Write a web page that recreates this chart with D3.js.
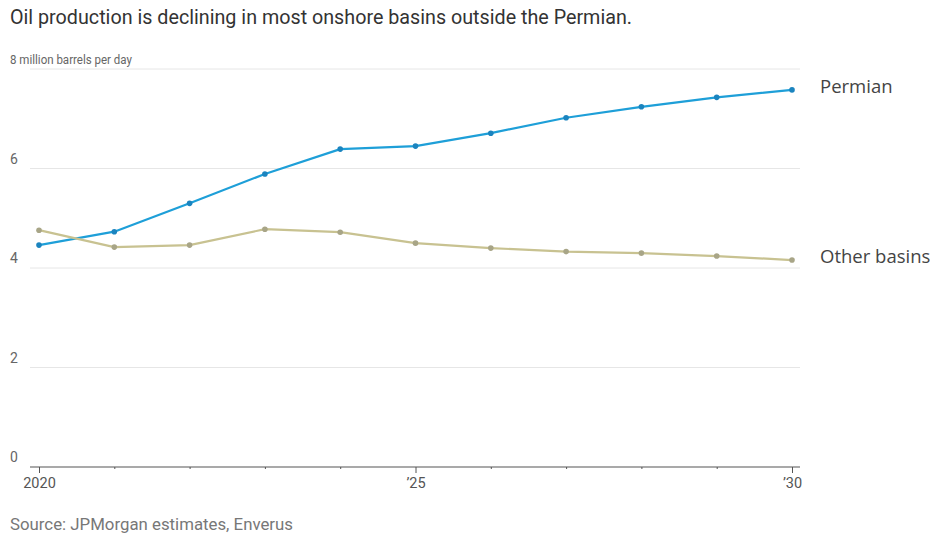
<!DOCTYPE html>
<html>
<head>
<meta charset="utf-8">
<script src="https://cdn.jsdelivr.net/npm/d3@7"></script>
<style>
  html, body { margin: 0; padding: 0; background: #fff; }
  svg { display: block; }
</style>
</head>
<body>
<svg id="chart" width="930" height="538"></svg>
<script>
// Oil production, million barrels per day
const years = [2020, 2021, 2022, 2023, 2024, 2025, 2026, 2027, 2028, 2029, 2030];
const permian = [4.46, 4.73, 5.30, 5.89, 6.39, 6.45, 6.71, 7.02, 7.24, 7.43, 7.58];
const otherBasins = [4.76, 4.42, 4.46, 4.78, 4.72, 4.50, 4.40, 4.33, 4.30, 4.24, 4.16];
const yTicks = [0, 2, 4, 6, 8];
const xTickLabels = { 2020: "2020", 2025: "\u201925", 2030: "\u201930" };

const series = [
  { name: "Permian", values: permian, line: "#1e9fd8", dot: "#1b84bf" },
  { name: "Other basins", values: otherBasins, line: "#c8c291", dot: "#a8a587" }
];

const svg = d3.select("#chart");
const x = d3.scaleLinear().domain([2020, 2030]).range([39, 792]);
const y = d3.scaleLinear().domain([0, 8]).range([467, 69]);

const font = "Roboto, 'Noto Sans', sans-serif";

// Title (condensed to the headline width)
svg.append("text")
  .attr("x", 10).attr("y", 24)
  .attr("font-family", font)
  .attr("font-size", 20.5)
  .attr("textLength", 622)
  .attr("lengthAdjust", "spacingAndGlyphs")
  .attr("fill", "#333")
  .text("Oil production is declining in most onshore basins outside the Permian.");

// Horizontal gridlines
svg.append("g").selectAll("line")
  .data(yTicks.filter(d => d > 0))
  .join("line")
  .attr("x1", 30).attr("x2", 800)
  .attr("y1", d => y(d)).attr("y2", d => y(d))
  .attr("stroke", "#e6e6e6").attr("stroke-width", 1);

// Y tick labels above gridlines
const yLab = svg.append("g").selectAll("text")
  .data(yTicks)
  .join("text")
  .attr("x", 10)
  .attr("y", d => y(d) - 5)
  .attr("font-family", font)
  .attr("font-size", d => d === 8 ? 12.5 : 14)
  .attr("fill", "#666")
  .text(d => d === 8 ? "8 million barrels per day" : d);
yLab.filter(d => d === 8)
  .attr("textLength", 122)
  .attr("lengthAdjust", "spacingAndGlyphs");

// X axis
const xAxis = d3.axisBottom(x)
  .tickValues(years)
  .tickSize(3)
  .tickFormat(d => xTickLabels[d] || "");
const gx = svg.append("g")
  .attr("transform", `translate(0,${y(0)})`)
  .call(xAxis);
gx.select(".domain").remove();
gx.append("line")
  .attr("x1", 30).attr("x2", 800)
  .attr("stroke", "#555").attr("stroke-width", 1.2);
gx.selectAll(".tick line")
  .attr("stroke", "#555")
  .attr("y2", d => xTickLabels[d] ? 6 : 2);
gx.selectAll(".tick text")
  .attr("dy", "0.95em")
  .attr("y", 7)
  .attr("font-family", font)
  .attr("font-size", 14.5)
  .attr("fill", "#555");

// Lines and points
const line = d3.line()
  .x((d, i) => x(years[i]))
  .y(d => y(d));

series.forEach(s => {
  svg.append("path")
    .datum(s.values)
    .attr("d", line)
    .attr("fill", "none")
    .attr("stroke", s.line)
    .attr("stroke-width", 2.2)
    .attr("stroke-linejoin", "round");
  svg.append("g").selectAll("circle")
    .data(s.values)
    .join("circle")
    .attr("cx", (d, i) => x(years[i]))
    .attr("cy", d => y(d))
    .attr("r", 2.8)
    .attr("fill", s.dot);
  svg.append("text")
    .attr("x", 820)
    .attr("y", y(s.values[s.values.length - 1]) + 3)
    .attr("font-family", "'Open Sans', sans-serif")
    .attr("font-size", 18.5)
    .attr("fill", "#444")
    .text(s.name);
});

// Source
svg.append("text")
  .attr("x", 10).attr("y", 530)
  .attr("font-family", font)
  .attr("font-size", 16)
  .attr("textLength", 283)
  .attr("lengthAdjust", "spacingAndGlyphs")
  .attr("fill", "#777")
  .text("Source: JPMorgan estimates, Enverus");
</script>
</body>
</html>
